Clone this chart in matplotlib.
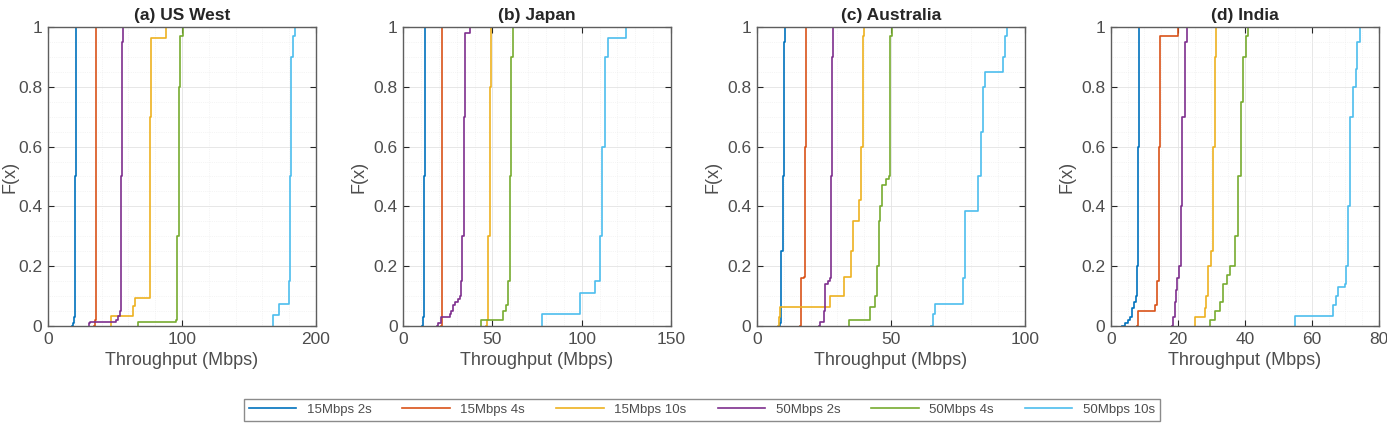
import matplotlib
matplotlib.use("Agg")
import matplotlib.pyplot as plt
from matplotlib.ticker import MultipleLocator

plt.rcParams["font.family"] = ["Liberation Sans", "DejaVu Sans"]

labels = ["15Mbps 2s", "15Mbps 4s", "15Mbps 10s", "50Mbps 2s", "50Mbps 4s", "50Mbps 10s"]
colors = ["#0072BD", "#D95319", "#EDB120", "#7E2F8E", "#77AC30", "#4DBEEE"]
titles = ["(a) US West", "(b) Japan", "(c) Australia", "(d) India"]
xmax = [200, 150, 100, 80]
xstep = [100, 50, 50, 20]
xminor = [20, 10, 10, 5]

# empirical CDF steps, series order as in labels
us_west_x = [
    [18.1, 19.0, 19.6, 20.0, 20.4, 20.8, 21.1],
    [34.5, 35.0, 35.4, 35.8, 36.1],
    [47.2, 47.2, 63.4, 65.3, 75.8, 76.5, 77.2, 88.2],
    [30.6, 30.6, 31.5, 51.0, 52.5, 53.5, 54.5, 55.3, 56.0],
    [67.0, 67.0, 95.6, 96.5, 97.5, 98.5, 100.6],
    [168.0, 168.0, 172.7, 179.6, 180.5, 181.5, 183.0, 184.6],
]
us_west_f = [
    [0, 0.01, 0.03, 0.1, 0.5, 0.9, 1.0],
    [0, 0.01, 0.02, 0.6, 1.0],
    [0, 0.033, 0.066, 0.094, 0.2, 0.7, 0.963, 1.0],
    [0, 0.01, 0.013, 0.02, 0.033, 0.05, 0.5, 0.95, 1.0],
    [0, 0.013, 0.02, 0.3, 0.8, 0.97, 1.0],
    [0, 0.037, 0.074, 0.15, 0.5, 0.9, 0.97, 1.0],
]

japan_x = [
    [10.8, 11.2, 11.5, 12.1],
    [21.3, 21.6, 22.0],
    [46.7, 47.2, 47.8, 48.5, 49.2],
    [19.2, 19.8, 21.3, 26.0, 27.0, 28.0, 29.0, 30.5, 31.8, 32.5, 33.0, 34.0, 34.6, 37.4],
    [43.9, 43.9, 56.0, 57.5, 58.5, 59.8, 60.5, 61.6],
    [77.5, 77.5, 99.0, 107.4, 110.0, 111.5, 113.0, 114.9, 124.8],
]
japan_f = [
    [0, 0.03, 0.5, 1.0],
    [0, 0.5, 1.0],
    [0, 0.02, 0.3, 0.8, 1.0],
    [0, 0.01, 0.03, 0.04, 0.05, 0.07, 0.08, 0.09, 0.1, 0.15, 0.3, 0.7, 0.98, 1.0],
    [0, 0.02, 0.05, 0.07, 0.15, 0.5, 0.9, 1.0],
    [0, 0.04, 0.11, 0.15, 0.3, 0.6, 0.9, 0.963, 1.0],
]

australia_x = [
    [8.1, 8.5, 8.9, 9.7, 10.1, 10.6],
    [16.1, 16.5, 17.4, 17.9, 18.4],
    [7.8, 8.2, 8.7, 27.3, 32.5, 35.2, 35.8, 36.0, 37.9, 38.8, 39.5, 39.8],
    [23.0, 23.6, 25.0, 25.5, 26.5, 27.3, 27.7, 28.0, 28.3],
    [34.5, 34.5, 42.0, 44.1, 44.8, 45.5, 46.0, 46.6, 48.2, 49.3, 49.7, 50.3],
    [64.8, 65.8, 66.5, 77.0, 77.7, 82.6, 83.5, 84.2, 85.0, 91.9, 92.6, 93.2],
]
australia_f = [
    [0, 0.01, 0.25, 0.5, 0.95, 1.0],
    [0, 0.16, 0.165, 0.6, 1.0],
    [0, 0.03, 0.065, 0.1, 0.165, 0.25, 0.3, 0.35, 0.42, 0.6, 0.97, 1.0],
    [0, 0.015, 0.05, 0.14, 0.15, 0.16, 0.5, 0.9, 1.0],
    [0, 0.02, 0.065, 0.1, 0.2, 0.35, 0.4, 0.47, 0.49, 0.5, 0.97, 1.0],
    [0, 0.04, 0.075, 0.16, 0.385, 0.5, 0.65, 0.8, 0.85, 0.9, 0.97, 1.0],
]

india_x = [
    [3.4, 4.2, 5.0, 5.7, 6.4, 7.0, 7.5, 7.8, 8.0, 8.3],
    [7.7, 8.0, 13.1, 13.6, 14.2, 14.6, 19.9],
    [25.0, 25.0, 28.0, 28.5, 29.0, 29.8, 30.5, 31.0, 31.5],
    [18.3, 18.6, 19.0, 19.4, 19.8, 20.3, 20.8, 21.3, 22.0, 22.6],
    [29.5, 29.5, 31.0, 32.5, 33.5, 34.5, 35.5, 37.0, 38.0, 38.8, 39.5, 40.2, 41.0],
    [55.0, 55.0, 66.3, 67.3, 67.8, 70.0, 70.3, 70.8, 71.5, 72.3, 73.0, 73.5, 74.3],
]
india_f = [
    [0, 0.01, 0.02, 0.03, 0.06, 0.08, 0.1, 0.2, 0.6, 1.0],
    [0, 0.05, 0.07, 0.15, 0.6, 0.97, 1.0],
    [0, 0.03, 0.06, 0.1, 0.2, 0.25, 0.6, 0.9, 1.0],
    [0, 0.03, 0.08, 0.12, 0.16, 0.2, 0.4, 0.7, 0.95, 1.0],
    [0, 0.02, 0.05, 0.08, 0.14, 0.17, 0.2, 0.3, 0.5, 0.75, 0.9, 0.97, 1.0],
    [0, 0.035, 0.07, 0.1, 0.13, 0.14, 0.2, 0.4, 0.7, 0.8, 0.86, 0.95, 1.0],
]

all_x = [us_west_x, japan_x, australia_x, india_x]
all_f = [us_west_f, japan_f, australia_f, india_f]

fig = plt.figure(figsize=(13.87, 4.23), dpi=100)
lefts = [0.0346, 0.2906, 0.5458, 0.801]
axis_col = "#262626"
text_col = "#4d4d4d"

handles = []
for k in range(4):
    ax = fig.add_axes([lefts[k], 0.2293, 0.1932, 0.7069])
    for s in range(6):
        h, = ax.step(all_x[k][s], all_f[k][s], where="post", color=colors[s], lw=1.2)
        if k == 0:
            handles.append(h)
    ax.set_xlim(0, xmax[k])
    ax.set_ylim(0, 1)
    ax.xaxis.set_major_locator(MultipleLocator(xstep[k]))
    ax.xaxis.set_minor_locator(MultipleLocator(xminor[k]))
    ax.yaxis.set_minor_locator(MultipleLocator(0.05))
    ax.set_yticks([0, 0.2, 0.4, 0.6, 0.8, 1.0])
    ax.set_yticklabels(["0", "0.2", "0.4", "0.6", "0.8", "1"])
    ax.grid(True, which="major", color="#e3e3e3", lw=0.6)
    ax.grid(True, which="minor", color="#ececec", lw=0.5, ls=":")
    ax.set_axisbelow(True)
    ax.tick_params(which="both", direction="in", top=True, right=True,
                   colors=axis_col, labelcolor=text_col, labelsize=12.5)
    ax.tick_params(which="major", length=4, pad=4)
    ax.tick_params(which="minor", length=0)
    for sp in ax.spines.values():
        sp.set_color("#5e5e5e")
        sp.set_linewidth(1.0)
    ax.set_xlabel("Throughput (Mbps)", color=text_col, fontsize=13, labelpad=4)
    ax.set_ylabel("F(x)", color=text_col, fontsize=13, labelpad=4 if k else 0)
    ax.set_title(titles[k], fontweight="bold", color="#262626", fontsize=12.5, pad=5)

fig.legend(handles, labels, loc="center", ncol=6, bbox_to_anchor=(0.506, 0.031),
           fontsize=9.5, frameon=True, fancybox=False, edgecolor="#6e6e6e",
           handlelength=3.6, columnspacing=2.35, borderpad=0.35, labelcolor=text_col)

fig.savefig("out.png", dpi=100)
